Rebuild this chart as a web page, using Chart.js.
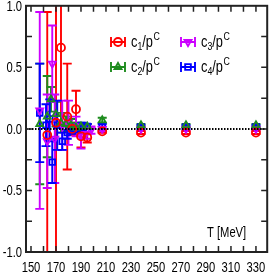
<!DOCTYPE html>
<html>
<head>
<meta charset="utf-8">
<script src="https://cdn.jsdelivr.net/npm/chart.js@4/dist/chart.umd.min.js"></script>
<style>
  html, body { margin: 0; padding: 0; background: #fff; }
  #wrap { width: 273px; height: 273px; }
</style>
</head>
<body>
<div id="wrap"><canvas id="grafico"></canvas></div>
<script>
// temperatures (MeV), values and errors for each ratio
const c1T = [163, 170, 174, 179, 183, 186, 190, 195, 207, 238, 274, 330];
const c1V = [-0.05, 0.05, 0.66, 0.10, 0.0, 0.16, -0.06, -0.07, -0.02, -0.03, -0.03, -0.03];
const c1E = [1.0, 1.6, 0.55, 0.43, 0.05, 0.15, 0.09, 0.04, 0.012, 0.012, 0.012, 0.012];

const c2T = [157, 163, 166, 170, 174, 178, 182, 186, 190, 195, 207, 238, 274, 330];
const c2V = [0.04, 0.10, 0.24, 0.12, 0.05, 0.04, 0.03, 0.01, 0.02, 0.02, 0.07, 0.03, 0.03, 0.03];
const c2E = [0.49, 0.33, 0.10, 0.10, 0.08, 0.06, 0.05, 0.04, 0.03, 0.02, 0.02, 0.01, 0.01, 0.01];

const c3T = [157, 163, 167, 169, 175, 180, 186, 190, 194, 198, 207, 238, 274, 330];
const c3V = [0.15, -0.10, 0.53, -0.08, 0.03, 0.05, 0.02, -0.06, -0.04, -0.01, 0.0, 0.0, 0.0, 0.0];
const c3E = [0.80, 0.38, 0.31, 0.36, 0.20, 0.18, 0.08, 0.10, 0.04, 0.03, 0.02, 0.012, 0.012, 0.012];

const c4T = [157, 162, 165, 167, 171, 175, 179, 183, 187, 191, 195, 207, 238, 274, 330];
const c4V = [0.13, 0.03, 0.08, -0.27, 0.03, -0.10, -0.03, 0.0, 0.0, 0.02, 0.02, 0.02, 0.015, 0.015, 0.015];
const c4E = [0.40, 0.17, 0.16, 0.17, 0.20, 0.07, 0.05, 0.04, 0.03, 0.03, 0.02, 0.02, 0.015, 0.015, 0.015];

const xLabels = [150, 170, 190, 210, 230, 250, 270, 290, 310, 330];
const yLabels = [-1.0, -0.5, 0.0, 0.5, 1.0];

const fuente = '"Liberation Sans", Arial, sans-serif';
const estrecho = 0.8; // the original uses a condensed face

const series = [
  { sub: '1', t: c1T, v: c1V, e: c1E, color: '#ff0000', style: 'circle', rot: 0, lx: 118, ly: 42 },
  { sub: '2', t: c2T, v: c2V, e: c2E, color: '#1e8c1e', style: 'triangle', rot: 0, lx: 118, ly: 67 },
  { sub: '3', t: c3T, v: c3V, e: c3E, color: '#cc00ff', style: 'triangle', rot: 180, lx: 188, ly: 42 },
  { sub: '4', t: c4T, v: c4V, e: c4E, color: '#0000ff', style: 'rect', rot: 0, lx: 188, ly: 67 }
];

const datasets = series.map((s) => ({
  label: 'c' + s.sub,
  data: s.t.map((t, i) => ({ x: t, y: s.v[i] })),
  borderColor: s.color,
  backgroundColor: 'rgba(255,255,255,0)',
  borderWidth: 1.8,
  pointStyle: s.style,
  rotation: s.rot,
  pointRadius: 4,
  errores: s.e
}));

function textoEstrecho(ctx, txt, x, y, align) {
  ctx.save();
  ctx.translate(x, y);
  ctx.scale(estrecho, 1);
  ctx.textAlign = align;
  ctx.fillText(txt, 0, 0);
  ctx.restore();
  return ctx.measureText(txt).width * estrecho;
}

const barrasError = {
  id: 'barrasError',
  beforeDatasetsDraw(chart) {
    const { ctx, scales: { x, y }, chartArea } = chart;
    ctx.save();
    ctx.beginPath();
    ctx.rect(chartArea.left, chartArea.top, chartArea.right - chartArea.left, chartArea.bottom - chartArea.top);
    ctx.clip();
    ctx.lineWidth = 1.9;
    chart.data.datasets.forEach((ds) => {
      ctx.strokeStyle = ds.borderColor;
      ds.data.forEach((p, i) => {
        const px = x.getPixelForValue(p.x);
        const top = y.getPixelForValue(p.y + ds.errores[i]);
        const bot = y.getPixelForValue(p.y - ds.errores[i]);
        ctx.beginPath();
        ctx.moveTo(px, top); ctx.lineTo(px, bot);
        ctx.moveTo(px - 4.5, top); ctx.lineTo(px + 4.5, top);
        ctx.moveTo(px - 4.5, bot); ctx.lineTo(px + 4.5, bot);
        ctx.stroke();
      });
    });
    ctx.restore();
  },
  afterDatasetsDraw(chart) {
    const { ctx, scales: { x, y }, chartArea } = chart;
    ctx.save();
    // dotted zero line
    const y0 = y.getPixelForValue(0);
    ctx.strokeStyle = '#000';
    ctx.lineWidth = 2;
    ctx.setLineDash([1.5, 1.5]);
    ctx.beginPath();
    ctx.moveTo(chartArea.left, y0); ctx.lineTo(chartArea.right, y0);
    ctx.stroke();
    ctx.setLineDash([]);

    // frame and inward ticks
    ctx.strokeStyle = '#222';
    ctx.lineWidth = 2;
    ctx.strokeRect(chartArea.left, chartArea.top, chartArea.right - chartArea.left, chartArea.bottom - chartArea.top);
    ctx.lineWidth = 1.5;
    ctx.beginPath();
    for (let t = 150; t <= 330; t += 10) {
      const px = x.getPixelForValue(t);
      ctx.moveTo(px, chartArea.bottom); ctx.lineTo(px, chartArea.bottom - 6);
      ctx.moveTo(px, chartArea.top); ctx.lineTo(px, chartArea.top + 6);
    }
    for (let v = -0.75; v <= 0.76; v += 0.25) {
      const py = y.getPixelForValue(v);
      ctx.moveTo(chartArea.left, py); ctx.lineTo(chartArea.left + 6, py);
      ctx.moveTo(chartArea.right, py); ctx.lineTo(chartArea.right - 6, py);
    }
    ctx.stroke();

    // tick labels
    ctx.fillStyle = '#000';
    ctx.font = '14px ' + fuente;
    ctx.textBaseline = 'alphabetic';
    xLabels.forEach((v) => {
      textoEstrecho(ctx, String(v), x.getPixelForValue(v), 272, 'center');
    });
    yLabels.forEach((v) => {
      textoEstrecho(ctx, v.toFixed(1), 22, y.getPixelForValue(v) + 5, 'right');
    });

    // legend
    series.forEach((s) => {
      ctx.strokeStyle = s.color;
      ctx.fillStyle = 'rgba(255,255,255,0)';
      ctx.lineWidth = 1.9;
      ctx.beginPath();
      ctx.moveTo(s.lx - 7, s.ly); ctx.lineTo(s.lx + 7, s.ly);
      ctx.moveTo(s.lx - 7, s.ly - 5); ctx.lineTo(s.lx - 7, s.ly + 5);
      ctx.moveTo(s.lx + 7, s.ly - 5); ctx.lineTo(s.lx + 7, s.ly + 5);
      ctx.stroke();
      Chart.helpers.drawPoint(ctx, {
        pointStyle: s.style, rotation: s.rot, radius: 4, borderWidth: 1.8
      }, s.lx, s.ly);
      ctx.fillStyle = '#000';
      ctx.textBaseline = 'alphabetic';
      let tx = s.lx + 13;
      const base = s.ly + 5;
      ctx.font = '16px ' + fuente;
      tx += textoEstrecho(ctx, 'c', tx, base, 'left');
      ctx.font = '11px ' + fuente;
      tx += textoEstrecho(ctx, s.sub, tx, base + 3, 'left');
      ctx.font = '16px ' + fuente;
      tx += textoEstrecho(ctx, '/p', tx, base, 'left');
      ctx.font = '11px ' + fuente;
      textoEstrecho(ctx, 'C', tx + 0.5, base - 7, 'left');
    });

    ctx.font = '14px ' + fuente;
    ctx.fillStyle = '#000';
    textoEstrecho(ctx, 'T [MeV]', 207, 237, 'left');
    ctx.restore();
  }
};

new Chart(document.querySelector('#grafico'), {
  type: 'scatter',
  data: { datasets },
  options: {
    responsive: true,
    maintainAspectRatio: false,
    animation: false,
    layout: { padding: { top: 5, right: 5, left: 0, bottom: 0 } },
    plugins: {
      legend: { display: false },
      tooltip: { enabled: false }
    },
    scales: {
      x: {
        type: 'linear',
        min: 146,
        max: 339,
        grid: { display: false, drawTicks: false },
        border: { display: false },
        afterFit: (scale) => { scale.height = 21; },
        ticks: { display: false }
      },
      y: {
        min: -1,
        max: 1,
        grid: { display: false, drawTicks: false },
        border: { display: false },
        afterFit: (scale) => { scale.width = 26; },
        ticks: { display: false }
      }
    }
  },
  plugins: [barrasError]
});
</script>
</body>
</html>
